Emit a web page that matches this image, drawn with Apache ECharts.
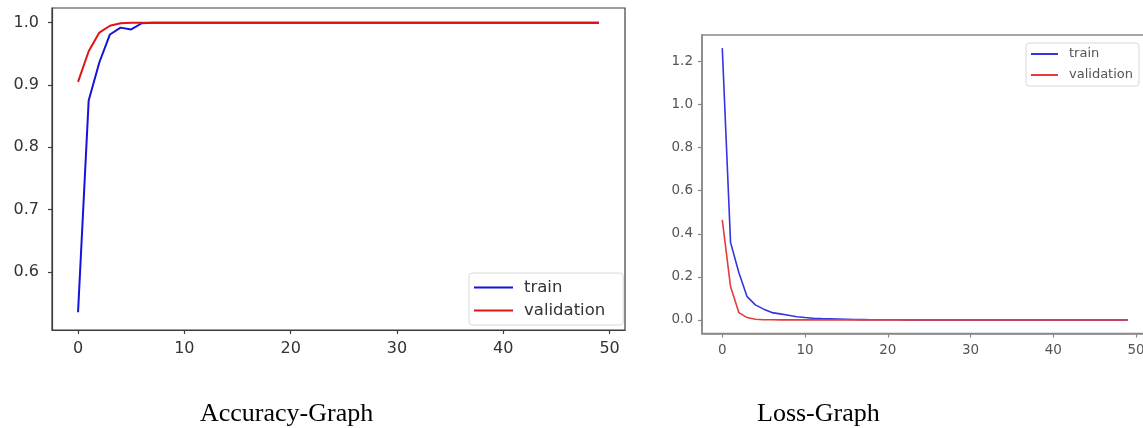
<!DOCTYPE html>
<html>
<head>
<meta charset="utf-8">
<script src="https://cdn.jsdelivr.net/npm/echarts@6/dist/echarts.min.js"></script>
<style>
    html, body {margin: 0; padding: 0; background: #fff;}
    #accWrap {position: absolute; left: 0; top: 0; width: 650px; height: 428px;}
    #lossWrap {position: absolute; left: 650px; top: 0; width: 493px; height: 428px;}
</style>
</head>
<body>
<div id="accWrap"></div>
<div id="lossWrap"></div>
<script>
// epochs 0..49
const accTrain = [0.535, 0.875, 0.936, 0.981, 0.992, 0.989, 0.999, 1.0, 1.0, 1.0,
    1.0, 1.0, 1.0, 1.0, 1.0, 1.0, 1.0, 1.0, 1.0, 1.0,
    1.0, 1.0, 1.0, 1.0, 1.0, 1.0, 1.0, 1.0, 1.0, 1.0,
    1.0, 1.0, 1.0, 1.0, 1.0, 1.0, 1.0, 1.0, 1.0, 1.0,
    1.0, 1.0, 1.0, 1.0, 1.0, 1.0, 1.0, 1.0, 1.0, 1.0];
const accVal = [0.905, 0.954, 0.984, 0.995, 0.999, 1.0, 1.0, 1.0, 1.0, 1.0,
    1.0, 1.0, 1.0, 1.0, 1.0, 1.0, 1.0, 1.0, 1.0, 1.0,
    1.0, 1.0, 1.0, 1.0, 1.0, 1.0, 1.0, 1.0, 1.0, 1.0,
    1.0, 1.0, 1.0, 1.0, 1.0, 1.0, 1.0, 1.0, 1.0, 1.0,
    1.0, 1.0, 1.0, 1.0, 1.0, 1.0, 1.0, 1.0, 1.0, 1.0];
const lossTrain = [1.262, 0.36, 0.22, 0.108, 0.07, 0.05, 0.034, 0.028, 0.022, 0.015,
    0.011, 0.008, 0.006, 0.005, 0.004, 0.003, 0.002, 0.0015, 0.001, 0.0008,
    0.0006, 0.0005, 0.0004, 0.0003, 0.0003, 0.0002, 0.0002, 0.0002, 0.0001, 0.0001,
    0.0001, 0.0001, 0.0001, 0.0001, 0.0001, 0.0001, 0.0001, 0.0001, 0.0001, 0.0001,
    0.0001, 0.0001, 0.0001, 0.0001, 0.0001, 0.0001, 0.0001, 0.0001, 0.0001, 0.0001];
const lossVal = [0.465, 0.155, 0.034, 0.011, 0.003, 0.001, 0.0005, 0.0003, 0.0002, 0.0001,
    0.0001, 0.0001, 0.0001, 0.0001, 0.0001, 0.0001, 0.0001, 0.0001, 0.0001, 0.0001,
    0.0001, 0.0001, 0.0001, 0.0001, 0.0001, 0.0001, 0.0001, 0.0001, 0.0001, 0.0001,
    0.0001, 0.0001, 0.0001, 0.0001, 0.0001, 0.0001, 0.0001, 0.0001, 0.0001, 0.0001,
    0.0001, 0.0001, 0.0001, 0.0001, 0.0001, 0.0001, 0.0001, 0.0001, 0.0001, 0.0001];

const xTicks = [0, 10, 20, 30, 40, 50];
const accTicks = [0.6, 0.7, 0.8, 0.9, 1.0];
const lossTicks = [0.0, 0.2, 0.4, 0.6, 0.8, 1.0, 1.2];

function pairs(values) {
    return values.map(function (v, i) {
        return [i, v];
    });
}

function buildOption(cfg) {
    const tick = {show: true, length: 4, inside: false, lineStyle: {color: cfg.frame, width: 1.2}};
    return {
        animation: false,
        grid: {
            left: cfg.grid.left, top: cfg.grid.top,
            width: cfg.grid.width, height: cfg.grid.height,
            show: true, borderColor: cfg.frame, borderWidth: cfg.frameWidth,
            outerBoundsMode: 'none'
        },
        xAxis: {
            type: 'value', min: -2.45, max: 51.45,
            splitLine: {show: false},
            axisLine: {show: true, onZero: false, lineStyle: {color: cfg.frame, width: cfg.frameWidth}},
            axisTick: Object.assign({customValues: xTicks}, tick),
            axisLabel: {
                customValues: xTicks, margin: cfg.xMargin, color: cfg.text,
                fontFamily: 'DejaVu Sans', fontSize: cfg.fontSize,
                formatter: function (v) { return String(v); }
            }
        },
        yAxis: {
            type: 'value', min: cfg.yMin, max: cfg.yMax,
            splitLine: {show: false},
            axisLine: {show: true, onZero: false, lineStyle: {color: cfg.frame, width: cfg.frameWidth}},
            axisTick: Object.assign({customValues: cfg.yTicks}, tick),
            axisLabel: {
                customValues: cfg.yTicks, margin: cfg.yMargin, color: cfg.text,
                fontFamily: 'DejaVu Sans', fontSize: cfg.fontSize,
                formatter: function (v) { return v.toFixed(1); }
            }
        },
        legend: {
            data: ['train', 'validation'],
            orient: 'vertical',
            left: cfg.legend.left, top: cfg.legend.top,
            itemWidth: cfg.legend.itemWidth, itemHeight: cfg.legend.itemHeight,
            itemGap: cfg.legend.itemGap,
            padding: cfg.legend.padding,
            borderColor: '#d8d8d8', borderWidth: 1, borderRadius: 3,
            backgroundColor: '#fff',
            selectedMode: false,
            itemStyle: {opacity: 0},
            textStyle: {
                color: cfg.text, fontFamily: 'DejaVu Sans',
                fontSize: cfg.legend.fontSize, lineHeight: cfg.legend.itemHeight,
                padding: [0, 0, 0, cfg.legend.textGap]
            }
        },
        series: [
            {
                name: 'train', type: 'line', data: pairs(cfg.train),
                symbol: 'none', color: cfg.blue,
                lineStyle: {width: cfg.lineWidth, color: cfg.blue}
            },
            {
                name: 'validation', type: 'line', data: pairs(cfg.val),
                symbol: 'none', color: cfg.red,
                lineStyle: {width: cfg.lineWidth, color: cfg.red}
            }
        ],
        graphic: [{
            type: 'text', left: cfg.caption.x, top: 401,
            style: {
                text: cfg.caption.text, fill: '#000',
                font: '26px "Liberation Serif"',
                textAlign: 'center'
            }
        }]
    };
}

const accChart = echarts.init(document.getElementById('accWrap'));
accChart.setOption(buildOption({
    grid: {left: 52, top: 8, width: 573, height: 322},
    frame: '#3c3c3c', frameWidth: 1.2, text: '#333', fontSize: 16,
    xMargin: 11, yMargin: 13,
    yMin: 0.5065, yMax: 1.0235, yTicks: accTicks,
    train: accTrain, val: accVal,
    blue: '#1414d8', red: '#e01414', lineWidth: 2,
    legend: {left: 469, top: 273, itemWidth: 39, itemHeight: 16, itemGap: 6,
        padding: [6, 18, 6, 4], fontSize: 16.5, textGap: 6},
    caption: {text: 'Accuracy-Graph', x: 200}
}));

const lossChart = echarts.init(document.getElementById('lossWrap'));
lossChart.setOption(buildOption({
    grid: {left: 52, top: 35, width: 446, height: 298.5},
    frame: '#888', frameWidth: 1.5, text: '#555', fontSize: 13.5,
    xMargin: 10, yMargin: 9,
    yMin: -0.063, yMax: 1.323, yTicks: lossTicks,
    train: lossTrain, val: lossVal,
    blue: '#3434e0', red: '#e43c3c', lineWidth: 1.6,
    legend: {left: 376, top: 43, itemWidth: 27, itemHeight: 14, itemGap: 7,
        padding: [4, 6, 4, 4], fontSize: 13, textGap: 6},
    caption: {text: 'Loss-Graph', x: 107}
}));
</script>
</body>
</html>
